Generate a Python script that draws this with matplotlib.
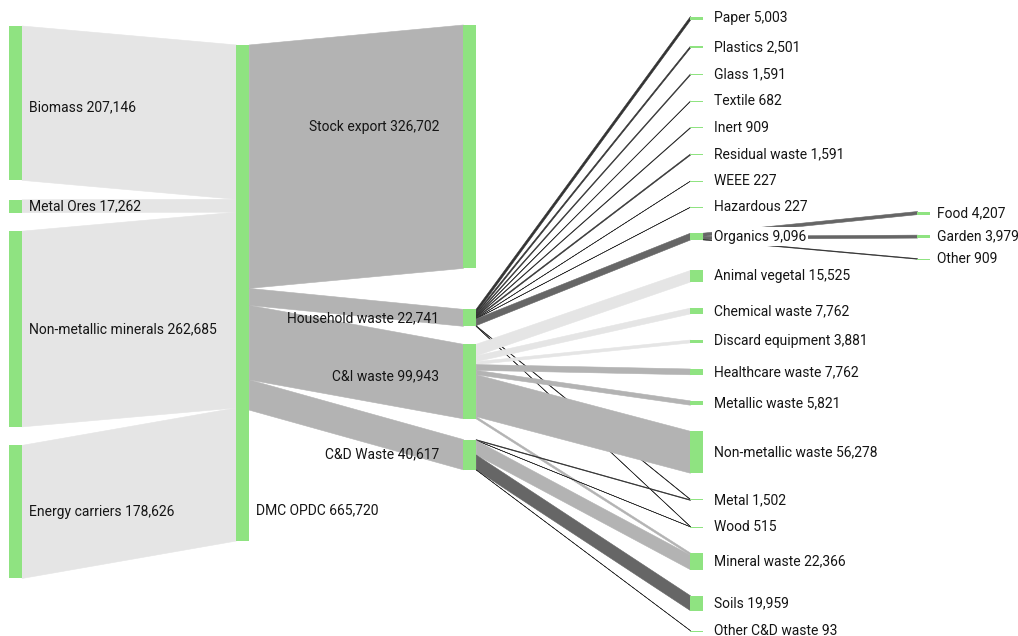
import matplotlib
matplotlib.use("Agg")
import matplotlib.pyplot as plt
from matplotlib.patches import Polygon, Rectangle

# ---------------- data ----------------
col1_names = ["Biomass", "Metal Ores", "Non-metallic minerals", "Energy carriers"]
col1_values = [207146, 17262, 262685, 178626]

col2_names = ["DMC OPDC"]
col2_values = [665720]

col3_names = ["Stock export", "Household waste", "C&I waste", "C&D Waste"]
col3_values = [326702, 22741, 99943, 40617]

col4_names = ["Paper", "Plastics", "Glass", "Textile", "Inert", "Residual waste",
              "WEEE", "Hazardous", "Organics", "Animal vegetal", "Chemical waste",
              "Discard equipment", "Healthcare waste", "Metallic waste",
              "Non-metallic waste", "Metal", "Wood", "Mineral waste", "Soils",
              "Other C&D waste"]
col4_values = [5003, 2501, 1591, 682, 909, 1591, 227, 227, 9096, 15525, 7762,
               3881, 7762, 5821, 56278, 1502, 515, 22366, 19959, 93]

col5_names = ["Food", "Garden", "Other"]
col5_values = [4207, 3979, 909]

link_sources = (["Biomass", "Metal Ores", "Non-metallic minerals", "Energy carriers"]
                + ["DMC OPDC"] * 4
                + ["Household waste"] * 11
                + ["C&I waste"] * 7
                + ["C&D Waste"] * 5
                + ["Organics"] * 3)
link_targets = (["DMC OPDC"] * 4
                + ["Stock export", "Household waste", "C&I waste", "C&D Waste"]
                + ["Paper", "Plastics", "Glass", "Textile", "Inert", "Residual waste",
                   "WEEE", "Hazardous", "Organics", "Metal", "Wood"]
                + ["Animal vegetal", "Chemical waste", "Discard equipment",
                   "Healthcare waste", "Metallic waste", "Non-metallic waste",
                   "Mineral waste"]
                + ["Metal", "Wood", "Mineral waste", "Soils", "Other C&D waste"]
                + ["Food", "Garden", "Other"])
link_values = ([207146, 17262, 262685, 178626]
               + [326702, 22741, 99943, 40617]
               + [5003, 2501, 1591, 682, 909, 1591, 227, 227, 9096, 600, 314]
               + [15525, 7762, 3881, 7762, 5821, 56278, 2914]
               + [902, 201, 19452, 19959, 93]
               + [4207, 3979, 909])
link_tones = (["light"] * 4
              + ["mid"] * 4
              + ["ink"] * 8 + ["dark"] + ["ink"] * 2
              + ["light"] * 3 + ["mid"] * 4
              + ["ink"] * 2 + ["mid", "dark", "ink"]
              + ["dark", "dark", "ink"])

# ---------------- style / layout ----------------
TONES = {"light": "#e5e5e5", "mid": "#b3b3b3", "dark": "#666666", "ink": "#333333"}
NODE_COLOR = "#8fe381"
TEXT_COLOR = "#151515"
W, H = 1018, 636
SCALE = 0.000745          # px per unit
NODE_W = 12.6
COL_X0 = 9.5
COL_STEP = 227.0
columns = [(col1_names, col1_values), (col2_names, col2_values),
           (col3_names, col3_values), (col4_names, col4_values),
           (col5_names, col5_values)]
col_start = [26, 45, 25, 16.5, 211.5]
col_gaps = [[19.5, 18.5, 18.5], [], [41, 18, 20.8],
            [25.9] * 8 + [30.5] + [26.1] * 9 + [20.0], [20.5, 20.5]]

plt.rcParams["font.family"] = ["Roboto", "DejaVu Sans"]
FS = 10.0

fig = plt.figure(figsize=(W / 100, H / 100), dpi=100)
ax = fig.add_axes([0, 0, 1, 1])
ax.set_xlim(0, W)
ax.set_ylim(H, 0)
ax.axis("off")

# node geometry
nodes = {}
for ci, (names, vals) in enumerate(columns):
    y = col_start[ci]
    x0 = COL_X0 + ci * COL_STEP
    for ni, (n, v) in enumerate(zip(names, vals)):
        h = v * SCALE
        nodes[n] = dict(col=ci, x0=x0, x1=x0 + NODE_W, y0=y, y1=y + h, value=v)
        y += h
        if ni < len(names) - 1:
            y += col_gaps[ci][ni]

# link stacking (by target y at source, by source y at target)
links = list(zip(link_sources, link_targets, link_values, link_tones))
out_off = {n: nodes[n]["y0"] for n in nodes}
in_off = {n: nodes[n]["y0"] for n in nodes}
geo = {}
for i in sorted(range(len(links)), key=lambda k: (nodes[links[k][0]]["y0"], nodes[links[k][1]]["y0"])):
    s, t, v, _ = links[i]
    h = v * SCALE
    geo.setdefault(i, {})["s"] = (out_off[s], out_off[s] + h)
    out_off[s] += h
for i in sorted(range(len(links)), key=lambda k: (nodes[links[k][1]]["y0"], nodes[links[k][0]]["y0"])):
    s, t, v, _ = links[i]
    h = v * SCALE
    geo[i]["t"] = (in_off[t], in_off[t] + h)
    in_off[t] += h

for i, (s, t, v, tone) in enumerate(links):
    xs = nodes[s]["x1"]
    xt = nodes[t]["x0"]
    (sy0, sy1), (ty0, ty1) = geo[i]["s"], geo[i]["t"]
    c = TONES[tone]
    ax.add_patch(Polygon([(xs, sy0), (xt, ty0), (xt, ty1), (xs, sy1)], closed=True,
                         facecolor=c, edgecolor=c, linewidth=0.4, zorder=1))

for n, d in nodes.items():
    ax.add_patch(Rectangle((d["x0"], d["y0"]), NODE_W, max(d["y1"] - d["y0"], 1.0),
                           facecolor=NODE_COLOR, edgecolor="none", zorder=2))

label_dy = {"Stock export": -20, "C&I waste": -5, "Biomass": 4}
for n, d in nodes.items():
    txt = f"{n} {d['value']:,}"
    yc = (d["y0"] + d["y1"]) / 2 + label_dy.get(n, 0)
    kw = dict(fontsize=FS, color=TEXT_COLOR, va="center", zorder=3)
    if d["col"] == 0:
        ax.text(d["x1"] + 7, yc, txt, ha="left", **kw)
    elif d["col"] == 1:
        ax.text(d["x1"] + 7, d["y1"] - 31, txt, ha="left", **kw)
    elif d["col"] == 2:
        ax.text(d["x0"] - 24, yc, txt, ha="right", **kw)
    elif d["col"] == 3:
        ax.text(d["x1"] + 11, yc, txt, ha="left",
                bbox=dict(boxstyle="square,pad=0.15", fc="white", ec="none"), **kw)
    else:
        ax.text(d["x1"] + 7, yc, txt, ha="left", **kw)

fig.savefig("out.png", dpi=100)
